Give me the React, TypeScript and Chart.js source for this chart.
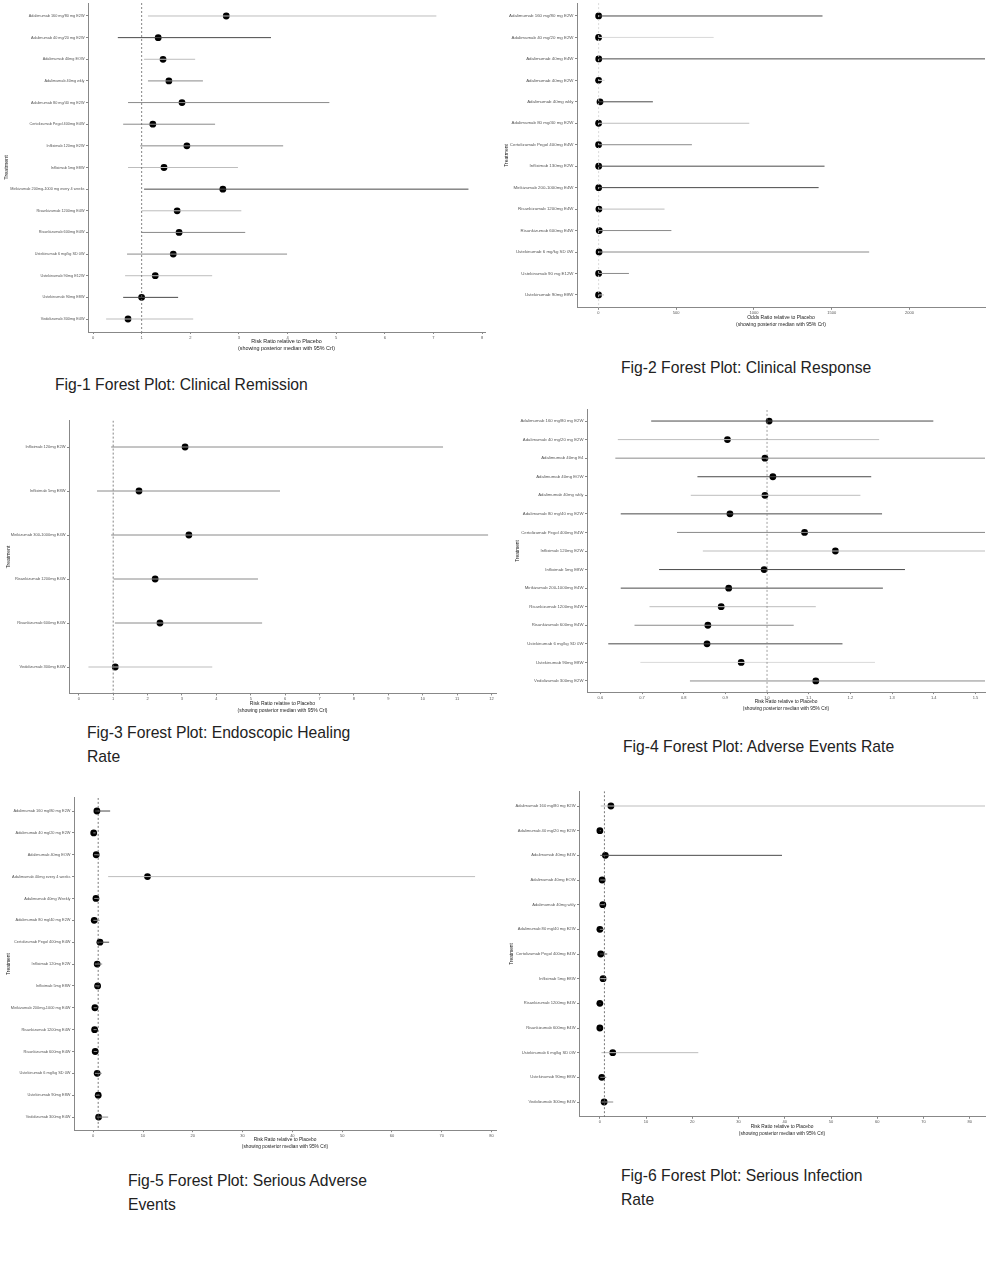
import React, { useEffect, useRef } from "react";
import { Chart, registerables } from "chart.js";

Chart.register(...registerables);

const FONT = "'Liberation Sans', Arial, Helvetica, sans-serif";
const RR_TITLE = "Risk Ratio relative to Placebo";
const OR_TITLE = "Odds Ratio relative to Placebo";
const SUB_TITLE = "(showing posterior median with 95% CrI)";

// ---------- Fig-1: Clinical Remission ----------
const fig1Treatments = [
  "Adalimumab 160 mg/80 mg E2W",
  "Adalimumab 40 mg/20 mg E2W",
  "Adalimumab 40mg EOW",
  "Adalimumab 40mg wkly",
  "Adalimumab 80 mg/40 mg E2W",
  "Certolizumab Pegol 400mg E4W",
  "Infliximab 120mg E2W",
  "Infliximab 5mg E8W",
  "Mirikizumab 200mg-1000 mg every 4 weeks",
  "Risankizumab 1200mg E4W",
  "Risankizumab 600mg E4W",
  "Ustekinumab 6 mg/kg SD 0W",
  "Ustekinumab 90mg E12W",
  "Ustekinumab 90mg E8W",
  "Vedolizumab 300mg E4W",
];
const fig1Median = [2.74, 1.34, 1.44, 1.56, 1.83, 1.23, 1.93, 1.46, 2.67, 1.73, 1.77, 1.65, 1.28, 1.0, 0.72];
const fig1Lower = [1.13, 0.51, 1.05, 1.13, 0.72, 0.62, 0.97, 0.72, 1.05, 1.0, 1.0, 0.7, 0.66, 0.62, 0.27];
const fig1Upper = [7.06, 3.66, 2.1, 2.26, 4.86, 2.51, 3.91, 2.98, 7.72, 3.05, 3.13, 3.99, 2.45, 1.75, 2.06];
const fig1Ticks = [0, 1, 2, 3, 4, 5, 6, 7, 8];

// ---------- Fig-2: Clinical Response ----------
const fig2Treatments = [
  "Adalimumab 160 mg/80 mg E2W",
  "Adalimumab 40 mg/20 mg E2W",
  "Adalimumab 40mg E4W",
  "Adalimumab 40mg E2W",
  "Adalimumab 40mg wkly",
  "Adalimumab 80 mg/40 mg E2W",
  "Certolizumab Pegol 400mg E4W",
  "Infliximab 130mg E2W",
  "Mirikizumab 200-1000mg E4W",
  "Risankizumab 1200mg E4W",
  "Risankizumab 600mg E4W",
  "Ustekinumab 6 mg/kg SD 0W",
  "Ustekinumab 90 mg E12W",
  "Ustekinumab 90mg E8W",
];
const fig2Median = [1.2, 0.8, 2.0, 1.0, 10, 1.0, 0.8, 1.5, 1.3, 3, 5, 4, 1.2, 0.6];
const fig2Lower = [0.05, 0.04, 0.1, 0.2, 0.5, 0.05, 0.05, 0.1, 0.1, 0.2, 0.2, 0.2, 0.1, 0.05];
const fig2Upper = [1441, 741, 3200, 40, 350, 970, 601, 1454, 1416, 425, 469, 1741, 196, 36];
const fig2Ticks = [0, 500, 1000, 1500, 2000];

// ---------- Fig-3: Endoscopic Healing Rate ----------
const fig3Treatments = [
  "Infliximab 120mg E2W",
  "Infliximab 5mg E8W",
  "Mirikizumab 300-1000mg E4W",
  "Risankizumab 1200mg E4W",
  "Risankizumab 600mg E4W",
  "Vedolizumab 300mg E4W",
];
const fig3Median = [3.09, 1.75, 3.2, 2.22, 2.36, 1.06];
const fig3Lower = [0.94, 0.53, 0.94, 1.01, 1.05, 0.28];
const fig3Upper = [10.59, 5.85, 11.9, 5.21, 5.33, 3.88];
const fig3Ticks = [0, 1, 2, 3, 4, 5, 6, 7, 8, 9, 10, 11, 12];

// ---------- Fig-4: Adverse Events Rate ----------
const fig4Treatments = [
  "Adalimumab 160 mg/80 mg E2W",
  "Adalimumab 40 mg/20 mg E2W",
  "Adalimumab 40mg E4",
  "Adalimumab 40mg EOW",
  "Adalimumab 40mg wkly",
  "Adalimumab 80 mg/40 mg E2W",
  "Certolizumab Pegol 400mg E4W",
  "Infliximab 120mg E2W",
  "Infliximab 5mg E8W",
  "Mirikizumab 200-1000mg E4W",
  "Risankizumab 1200mg E4W",
  "Risankizumab 600mg E4W",
  "Ustekinumab 6 mg/kg SD 0W",
  "Ustekinumab 90mg E8W",
  "Vedolizumab 300mg E2W",
];
const fig4Median = [1.005, 0.905, 0.995, 1.014, 0.995, 0.911, 1.09, 1.164, 0.993, 0.908, 0.89, 0.858, 0.856, 0.938, 1.117];
const fig4Lower = [0.722, 0.642, 0.636, 0.833, 0.817, 0.649, 0.784, 0.846, 0.741, 0.649, 0.718, 0.682, 0.619, 0.696, 0.815];
const fig4Upper = [1.399, 1.269, 1.6, 1.25, 1.224, 1.276, 1.6, 1.6, 1.331, 1.278, 1.117, 1.064, 1.181, 1.259, 1.6];
const fig4Ticks = [0.6, 0.7, 0.8, 0.9, 1.0, 1.1, 1.2, 1.3, 1.4, 1.5];

// ---------- Fig-5: Serious Adverse Events ----------
const fig5Treatments = [
  "Adalimumab 160 mg/80 mg E2W",
  "Adalimumab 40 mg/20 mg E2W",
  "Adalimumab 40mg EOW",
  "Adalimumab 40mg every 4 weeks",
  "Adalimumab 40mg Weekly",
  "Adalimumab 80 mg/40 mg E2W",
  "Certolizumab Pegol 400mg E4W",
  "Infliximab 120mg E2W",
  "Infliximab 5mg E8W",
  "Mirikizumab 200mg-1000 mg E4W",
  "Risankizumab 1200mg E4W",
  "Risankizumab 600mg E4W",
  "Ustekinumab 6 mg/kg SD 0W",
  "Ustekinumab 90mg E8W",
  "Vedolizumab 300mg E4W",
];
const fig5Median = [0.74, 0.1, 0.6, 10.9, 0.55, 0.2, 1.35, 0.8, 0.88, 0.34, 0.28, 0.4, 0.8, 1.0, 1.08];
const fig5Lower = [0.4, 0.01, 0.2, 3.0, 0.2, 0.03, 0.7, 0.3, 0.4, 0.08, 0.06, 0.1, 0.34, 0.5, 0.7];
const fig5Upper = [3.4, 0.5, 1.3, 76.7, 1.2, 1.3, 3.2, 1.8, 1.3, 0.8, 0.7, 0.8, 1.7, 1.3, 3.0];
const fig5Ticks = [0, 10, 20, 30, 40, 50, 60, 70, 80];

// ---------- Fig-6: Serious Infection Rate ----------
const fig6Treatments = [
  "Adalimumab 160 mg/80 mg E2W",
  "Adalimumab 40 mg/20 mg E2W",
  "Adalimumab 40mg E4W",
  "Adalimumab 40mg EOW",
  "Adalimumab 40mg wkly",
  "Adalimumab 80 mg/40 mg E2W",
  "Certolizumab Pegol 400mg E4W",
  "Infliximab 5mg E8W",
  "Risankizumab 1200mg E4W",
  "Risankizumab 600mg E4W",
  "Ustekinumab 6 mg/kg SD 0W",
  "Ustekinumab 90mg E8W",
  "Vedolizumab 300mg E4W",
];
const fig6Median = [2.4, 0.02, 1.2, 0.5, 0.65, 0.02, 0.2, 0.7, 0.01, 0.01, 2.8, 0.43, 0.93];
const fig6Lower = [0.2, 0.0, 0.1, 0.1, 0.1, 0.0, 0.02, 0.1, 0.0, 0.0, 0.35, 0.1, 0.35];
const fig6Upper = [95, 0.2, 39.4, 1.0, 1.1, 1.0, 1.6, 1.6, 0.1, 0.1, 21.3, 1.4, 2.9];
const fig6Ticks = [0, 10, 20, 30, 40, 50, 60, 70, 80];

// line shades (styles, kept separate from data)
const D = "#4a4a4a";
const M = "#8a8a8a";
const L = "#bdbdbd";
const XL = "#d9d9d9";
const fig1Shades = [L, D, L, M, M, M, M, L, D, L, M, M, L, D, L];
const fig2Shades = [D, XL, D, XL, D, L, M, D, D, L, M, M, M, L];
const fig3Shades = [M, M, M, M, M, L];
const fig4Shades = [D, L, M, D, L, D, M, L, D, D, L, M, D, XL, M];
const fig5Shades = [D, M, M, L, M, M, D, M, M, M, M, M, M, M, M];
const fig6Shades = [L, M, D, M, M, M, D, L, M, M, L, M, M];

type Box = {
  chartLeft: number;
  chartRight: number;
  chartTop: number;
  chartBottom: number;
  canvasLeft: number;
  canvasRight: number;
  title2Y: number;
  treatX: number;
};

type Spec = {
  treatments: string[];
  median: number[];
  lower: number[];
  upper: number[];
  shades: string[];
  ticks: number[];
  decimals: number;
  xMin: number;
  xMax: number;
  refValue: number;
  refColor: string;
  xTitle: string;
  box: Box;
  yFont: number;
  xFont: number;
  titleFont: number;
};

function ForestPlot({ spec }: { spec: Spec }) {
  const ref = useRef<HTMLCanvasElement | null>(null);
  const b = spec.box;
  const canvasTop = Math.floor(b.chartTop - 5);
  const canvasBottom = Math.ceil(b.title2Y + 6);
  const width = b.canvasRight - b.canvasLeft;
  const height = canvasBottom - canvasTop;
  const padTop = b.chartTop - canvasTop;
  const padRight = b.canvasRight - b.chartRight;
  const yWidth = b.chartLeft - b.canvasLeft;
  const xHeight = canvasBottom - b.chartBottom;
  const titleLH = 7;
  const titlePadBottom = canvasBottom - b.title2Y - titleLH / 2;
  const treatPad = b.treatX - b.canvasLeft - titleLH / 2;

  useEffect(() => {
    if (!ref.current) return;
    const n = spec.treatments.length;
    const rows = spec.treatments.map((_, i) => i + 1);
    const datasets: any[] = [
      {
        type: "line",
        data: [
          { x: spec.refValue, y: 0.4 },
          { x: spec.refValue, y: n + 0.6 },
        ],
        borderColor: spec.refColor,
        borderWidth: 0.8,
        borderDash: [2, 2],
        pointRadius: 0,
        fill: false,
      },
      ...rows.map((r, i) => ({
        type: "line",
        data: [
          { x: spec.lower[i], y: r },
          { x: spec.upper[i], y: r },
        ],
        borderColor: spec.shades[i],
        borderWidth: 1,
        pointRadius: 0,
        fill: false,
      })),
      {
        type: "scatter",
        data: rows.map((r, i) => ({ x: spec.median[i], y: r })),
        pointRadius: 3.4,
        pointBackgroundColor: "#000",
        pointBorderColor: "#000",
        pointBorderWidth: 0,
      },
    ];
    const chart = new Chart(ref.current, {
      type: "scatter",
      data: { datasets },
      options: {
        responsive: false,
        maintainAspectRatio: false,
        animation: false,
        devicePixelRatio: 1,
        layout: { padding: { top: padTop, right: padRight, left: 0, bottom: 0 } },
        plugins: { legend: { display: false }, tooltip: { enabled: false } },
        scales: {
          x: {
            type: "linear",
            min: spec.xMin,
            max: spec.xMax,
            afterBuildTicks: (s: any) => {
              s.ticks = spec.ticks.map((v) => ({ value: v }));
            },
            afterFit: (s: any) => {
              s.height = xHeight;
            },
            ticks: {
              autoSkip: false,
              maxRotation: 0,
              padding: 1,
              color: "#555",
              font: { family: FONT, size: spec.xFont },
              callback: (v: any) => Number(v).toFixed(spec.decimals),
            },
            grid: { drawOnChartArea: false, drawTicks: true, tickLength: 2, color: "#888" },
            border: { display: true, color: "#888", width: 1 },
            title: {
              display: true,
              text: [spec.xTitle, SUB_TITLE],
              color: "#222",
              font: { family: FONT, size: spec.titleFont, lineHeight: titleLH + "px" },
              padding: { top: 0, bottom: titlePadBottom },
            },
          },
          y: {
            type: "linear",
            min: 0.4,
            max: n + 0.6,
            reverse: true,
            afterBuildTicks: (s: any) => {
              s.ticks = rows.map((r) => ({ value: r }));
            },
            afterFit: (s: any) => {
              s.width = yWidth;
            },
            ticks: {
              autoSkip: false,
              padding: 1.5,
              color: "#555",
              font: { family: FONT, size: spec.yFont },
              callback: (v: any) => spec.treatments[Math.round(Number(v)) - 1] ?? "",
            },
            grid: { drawOnChartArea: false, drawTicks: true, tickLength: 2, color: "#888" },
            border: { display: true, color: "#888", width: 1 },
            title: {
              display: true,
              text: "Treatment",
              color: "#222",
              font: { family: FONT, size: spec.titleFont, lineHeight: titleLH + "px" },
              padding: { top: treatPad, bottom: 0 },
            },
          },
        },
      } as any,
    });
    return () => chart.destroy();
  }, []);

  return (
    <canvas
      ref={ref}
      width={width}
      height={height}
      style={{ position: "absolute", left: b.canvasLeft, top: canvasTop, width, height }}
    />
  );
}

const specs: Spec[] = [
  {
    treatments: fig1Treatments, median: fig1Median, lower: fig1Lower, upper: fig1Upper,
    shades: fig1Shades, ticks: fig1Ticks, decimals: 0, xMin: -0.103, xMax: 8.06, refValue: 1, refColor: "#666",
    xTitle: RR_TITLE, yFont: 3.8, xFont: 4, titleFont: 5.4,
    box: { chartLeft: 88, chartRight: 485, chartTop: 3, chartBottom: 332, canvasLeft: 0, canvasRight: 489, title2Y: 349, treatX: 7 },
  },
  {
    treatments: fig2Treatments, median: fig2Median, lower: fig2Lower, upper: fig2Upper,
    shades: fig2Shades, ticks: fig2Ticks, decimals: 0, xMin: -138, xMax: 2486, refValue: 1, refColor: "#d0d0d0",
    xTitle: OR_TITLE, yFont: 4.4, xFont: 4, titleFont: 5,
    box: { chartLeft: 577, chartRight: 989, chartTop: 3.1, chartBottom: 307.8, canvasLeft: 500, canvasRight: 989, title2Y: 325, treatX: 507 },
  },
  {
    treatments: fig3Treatments, median: fig3Median, lower: fig3Lower, upper: fig3Upper,
    shades: fig3Shades, ticks: fig3Ticks, decimals: 0, xMin: -0.285, xMax: 12.13, refValue: 1, refColor: "#666",
    xTitle: RR_TITLE, yFont: 4, xFont: 4, titleFont: 5,
    box: { chartLeft: 69, chartRight: 496, chartTop: 420.6, chartBottom: 693.4, canvasLeft: 0, canvasRight: 500, title2Y: 711, treatX: 9 },
  },
  {
    treatments: fig4Treatments, median: fig4Median, lower: fig4Lower, upper: fig4Upper,
    shades: fig4Shades, ticks: fig4Ticks, decimals: 1, xMin: 0.568, xMax: 1.523, refValue: 1, refColor: "#888",
    xTitle: RR_TITLE, yFont: 4.3, xFont: 4, titleFont: 4.8,
    box: { chartLeft: 587, chartRight: 989, chartTop: 409.9, chartBottom: 692.1, canvasLeft: 500, canvasRight: 989, title2Y: 709, treatX: 518 },
  },
  {
    treatments: fig5Treatments, median: fig5Median, lower: fig5Lower, upper: fig5Upper,
    shades: fig5Shades, ticks: fig5Ticks, decimals: 0, xMin: -3.86, xMax: 80.9, refValue: 1, refColor: "#555",
    xTitle: RR_TITLE, yFont: 3.9, xFont: 4, titleFont: 4.8,
    box: { chartLeft: 74, chartRight: 497, chartTop: 797.9, chartBottom: 1130.2, canvasLeft: 0, canvasRight: 500, title2Y: 1147, treatX: 9 },
  },
  {
    treatments: fig6Treatments, median: fig6Median, lower: fig6Lower, upper: fig6Upper,
    shades: fig6Shades, ticks: fig6Ticks, decimals: 0, xMin: -4.5, xMax: 83.3, refValue: 1, refColor: "#555",
    xTitle: RR_TITLE, yFont: 4.1, xFont: 4, titleFont: 4.8,
    box: { chartLeft: 579, chartRight: 989, chartTop: 791.2, chartBottom: 1116.8, canvasLeft: 500, canvasRight: 989, title2Y: 1134, treatX: 512 },
  },
];

const captions = [
  { lines: ["Fig-1 Forest Plot: Clinical Remission"], left: 55, centerY: 385 },
  { lines: ["Fig-2 Forest Plot: Clinical Response"], left: 621, centerY: 368 },
  { lines: ["Fig-3 Forest Plot: Endoscopic Healing", "Rate"], left: 87, centerY: 733 },
  { lines: ["Fig-4 Forest Plot: Adverse Events Rate"], left: 623, centerY: 747 },
  { lines: ["Fig-5 Forest Plot: Serious Adverse", "Events"], left: 128, centerY: 1181 },
  { lines: ["Fig-6 Forest Plot: Serious Infection", "Rate"], left: 621, centerY: 1176 },
];

export default function App() {
  return (
    <div
      style={{
        position: "absolute",
        left: 0,
        top: 0,
        width: 989,
        height: 1280,
        background: "#fff",
        overflow: "hidden",
      }}
    >
      {specs.map((s, i) => (
        <ForestPlot key={i} spec={s} />
      ))}
      {captions.map((c, i) => (
        <div
          key={"c" + i}
          style={{
            position: "absolute",
            left: c.left,
            top: c.centerY - 12,
            fontFamily: FONT,
            fontSize: 15.7,
            lineHeight: "24px",
            color: "#222",
            whiteSpace: "nowrap",
          }}
        >
          {c.lines.map((l, j) => (
            <div key={j}>{l}</div>
          ))}
        </div>
      ))}
    </div>
  );
}
